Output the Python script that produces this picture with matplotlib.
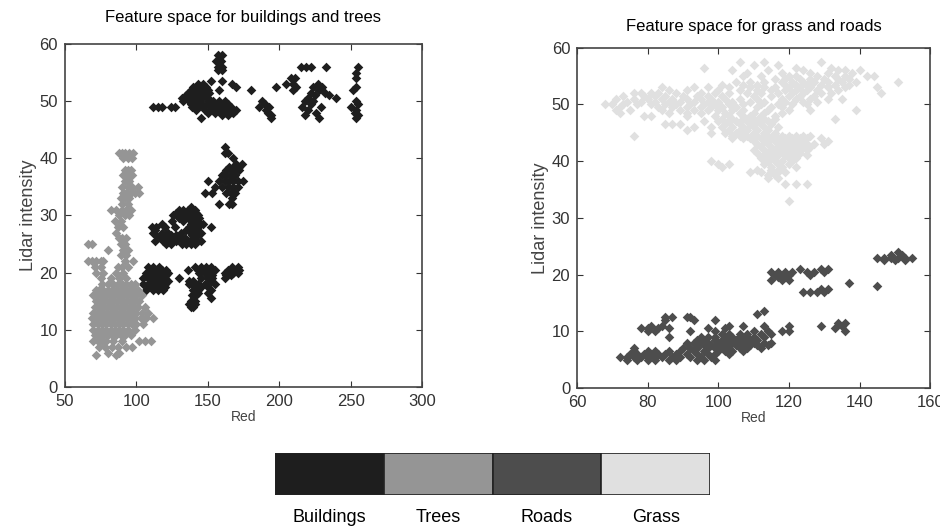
import numpy as np
import matplotlib.pyplot as plt

plt.rcParams['font.family'] = ['Liberation Sans', 'DejaVu Sans']

# rows of points: (y, [x values])
buildings_rows = [
    (58, [157, 160]), (57, [156, 159]),
    (56, [157, 160, 215, 219, 222, 233, 255]), (55.5, [157, 160]), (55, [254]),
    (54, [208, 211, 254]), (53.5, [152, 160]),
    (53, [143, 147, 167, 205, 210, 227]),
    (52.5, [140, 145, 149, 170, 198, 212, 224, 230, 254]),
    (52, [138, 142, 146, 150, 158, 180, 210, 228, 252]),
    (51.5, [136, 139, 143, 147, 151, 222, 232]),
    (51, [135, 138, 141, 144, 148, 225, 235]),
    (50.5, [132, 136, 140, 143, 146, 150, 220, 240]),
    (50, [133, 137, 140, 144, 150, 154, 158, 162, 188, 218, 224, 254]),
    (49.5, [138, 142, 146, 150, 153, 157, 161, 164, 190, 222, 255]),
    (49, [112, 115, 118, 124, 127, 139, 143, 147, 152, 156, 160, 163, 166, 186, 193, 216, 229, 250]),
    (48.5, [142, 148, 153, 157, 161, 165, 170, 191, 220, 254]),
    (48, [150, 155, 159, 163, 168, 192, 226, 253]),
    (47.5, [160, 164, 194, 218, 255]), (47, [145, 194, 228, 254]),
    (42, [162]), (41, [162, 164]), (40, [168]), (39, [170, 174]),
    (38.5, [165, 168, 172]), (38, [163, 166, 169, 172]),
    (37, [160, 163, 166, 169]), (36, [150, 158, 162, 165, 168, 171, 175]),
    (35, [155, 160, 164, 168, 171]), (34, [148, 153, 163, 166, 169]),
    (33, [167]), (32, [158, 165, 167]), (31.5, [138]),
    (31, [130, 133, 136, 141]), (30.5, [128, 131, 134, 137, 142]),
    (30, [126, 129, 132, 135, 140, 143]), (29.5, [130, 136, 138, 141, 144]),
    (29, [125, 133, 140, 143]), (28.5, [118, 138, 141, 144, 147]),
    (28, [111, 114, 120, 127, 137, 140, 143, 152]), (27.5, [113, 135, 142]),
    (27, [112, 118, 122, 131, 138, 145]), (26.5, [114, 121, 124, 128, 139, 143]),
    (26, [117, 120, 123, 126, 131, 134, 140]),
    (25.5, [113, 119, 122, 125, 128, 136, 139, 142, 145]),
    (25, [121, 124, 132, 135, 138, 141]),
    (21, [108, 112, 116, 141, 145, 149, 152, 167, 171]),
    (20.5, [111, 114, 118, 121, 136, 143, 146, 151, 155, 164, 169, 172]),
    (20, [107, 110, 113, 116, 119, 122, 144, 148, 152, 162, 165, 168, 171]),
    (19.5, [109, 112, 115, 118, 121, 150, 153, 163, 166]),
    (19, [105, 108, 111, 114, 117, 120, 130, 145, 150, 153, 162]),
    (18.5, [110, 113, 116, 119, 122, 137, 140, 152]),
    (18, [105, 108, 111, 114, 117, 120, 137, 140, 143, 148, 155]),
    (17.5, [110, 116, 120, 141, 145, 150]), (17, [107, 112, 115, 119, 140, 143, 152]),
    (16.5, [143, 150]), (16, [139, 142]), (15.5, [152]), (15, [138, 141]),
    (14.5, [137, 139, 141]), (14, [138, 140]),
]

trees_rows = [
    (41, [88, 90, 92, 95, 98]), (40, [91, 94, 97]), (38, [92, 94, 96]),
    (37, [91, 93, 95, 97]), (36, [92, 95]), (35, [90, 94, 97, 101]),
    (34, [91, 93, 96, 99, 102]), (33, [89, 92, 95]), (32, [90, 94]),
    (31, [82, 86, 90, 93, 96]), (30, [88, 92, 95]), (29, [85, 89]),
    (28, [87, 91]), (27, [86]), (26, [88, 90, 93]), (25, [66, 69, 89, 92]),
    (24, [80, 91, 94]), (23, [89, 93]), (22, [66, 69, 72, 75, 77, 92, 98]),
    (21, [71, 75, 87, 90, 94]), (20, [72, 77, 86, 91]), (19, [75, 82, 88, 93]),
    (18, [76, 80, 84, 87, 90, 93, 96, 99]),
    (17, [72, 74, 77, 80, 83, 86, 89, 92, 95, 98, 101]),
    (16, [70, 73, 76, 79, 82, 85, 88, 91, 94, 97, 100, 104]),
    (15, [72, 75, 78, 81, 84, 87, 90, 93, 96, 99, 102]),
    (14, [71, 74, 77, 80, 83, 86, 89, 92, 95, 98, 101, 106]),
    (13, [70, 73, 76, 79, 82, 85, 88, 91, 94, 97, 100, 104, 108]),
    (12, [69, 72, 75, 78, 81, 84, 87, 90, 93, 96, 99, 103, 107, 112]),
    (11, [70, 73, 76, 79, 82, 85, 88, 91, 94, 97, 100, 105]),
    (10, [70, 73, 76, 79, 82, 85, 88, 91, 94, 99]),
    (9, [71, 74, 77, 80, 83, 86, 89, 92, 96]),
    (8, [70, 73, 76, 79, 84, 90, 102, 106, 110]),
    (7, [74, 78, 83, 87, 93, 97]), (6, [80, 88]), (5.5, [72, 86]),
]

grass_rows = [
    (57.5, [106, 113, 129]), (57, [110, 117]), (56.5, [96, 122, 132]),
    (56, [104, 114, 124, 134, 136, 140]), (55.5, [108, 118, 126, 131, 138]),
    (55, [107, 112, 120, 122, 128, 133, 136, 142, 144]),
    (54.5, [116, 119, 123, 126, 130, 134, 137]),
    (54, [105, 109, 113, 118, 121, 124, 127, 131, 135, 139, 151]),
    (53.5, [101, 107, 111, 119, 122, 125, 129, 133, 137]),
    (53, [84, 93, 97, 103, 109, 113, 116, 120, 123, 126, 131, 136, 145]),
    (52.5, [86, 91, 100, 106, 111, 115, 119, 122, 125, 128, 134]),
    (52, [76, 78, 81, 83, 88, 95, 99, 103, 108, 112, 117, 121, 124, 129, 132, 146]),
    (51.5, [73, 79, 82, 85, 90, 94, 97, 101, 110, 115, 120, 123, 127]),
    (51, [71, 76, 80, 84, 87, 91, 95, 98, 102, 106, 111, 118, 122, 126, 131, 135]),
    (50.5, [74, 78, 82, 86, 89, 93, 97, 100, 104, 109, 113, 119, 124, 128]),
    (50, [68, 70, 73, 77, 81, 85, 88, 92, 96, 99, 103, 107, 112, 117, 121, 125]),
    (49.5, [72, 83, 87, 91, 95, 98, 101, 105, 111, 115, 118]),
    (49, [71, 75, 84, 89, 93, 97, 100, 104, 107, 114, 120, 126, 139]),
    (48.5, [72, 86, 91, 95, 102, 106, 110, 113, 118]),
    (48, [79, 81, 91, 99, 103, 107, 109, 112, 116]),
    (47.5, [101, 104, 107, 110, 113, 116, 133]),
    (47, [96, 100, 103, 105, 108, 111, 114]),
    (46.5, [85, 87, 89, 102, 106, 109, 112, 115]),
    (46, [93, 98, 101, 104, 107, 110, 113, 117]),
    (45.5, [91, 103, 106, 108, 111, 114]),
    (45, [98, 102, 105, 107, 110, 113, 116]),
    (44.5, [76, 104, 106, 108, 111, 114, 118, 120, 122, 124, 126]),
    (44, [104, 107, 109, 112, 115, 117, 119, 121, 123, 125, 129]),
    (43.5, [110, 113, 116, 118, 120, 122, 124, 131]),
    (43, [111, 114, 117, 119, 121, 123, 125, 127, 130]),
    (42.5, [112, 115, 118, 120, 122, 124, 126]),
    (42, [110, 113, 116, 118, 120, 122, 125]),
    (41.5, [111, 114, 117, 119, 121, 123]),
    (41, [113, 115, 117, 119, 121, 125]),
    (40.5, [112, 114, 116, 120, 122]), (40, [98, 114, 116, 118, 121]),
    (39.5, [100, 103, 113, 117, 120]), (39, [101, 115, 118, 122]),
    (38.5, [111, 115, 117]), (38, [109, 112, 115, 117, 119]),
    (37.5, [114, 116]), (37, [114, 117]), (36, [119, 122, 125]), (33, [120]),
]

roads_rows = [
    (24, [151]), (23.5, [149, 152]), (23, [145, 147, 149, 151, 153, 155]),
    (22.5, [147, 150, 153]), (21, [123, 129, 131]),
    (20.5, [115, 117, 119, 121, 125, 127, 130]), (20, [116, 118, 120, 126]),
    (19.5, [117, 119]), (19, [115, 118, 120]), (18.5, [137]), (18, [145]),
    (17.5, [129, 131]), (17, [124, 126, 128, 130]),
    (13.5, [113]), (13, [111]), (12.5, [85, 87, 91, 92]), (12, [85, 93, 99]),
    (11.5, [134, 136]), (11, [81, 84, 103, 107, 113, 120, 129, 135]),
    (10.5, [78, 80, 83, 86, 97, 102, 133]),
    (10, [80, 82, 92, 99, 110, 114, 118, 120, 136]),
    (9.5, [101, 103, 106, 108, 112, 115]),
    (9, [86, 95, 97, 99, 102, 104, 106, 108, 110, 113]),
    (8.5, [94, 96, 99, 101, 103, 105, 107, 109, 111]),
    (8, [91, 93, 95, 97, 100, 102, 104, 106, 108, 110, 113, 115]),
    (7.5, [94, 96, 98, 101, 103, 105, 107, 109, 111, 114]),
    (7, [76, 90, 92, 94, 97, 99, 101, 103, 106, 108, 112]),
    (6.5, [76, 80, 82, 86, 89, 93, 96, 100, 102, 104, 107]),
    (6, [75, 77, 79, 81, 83, 85, 88, 91, 94, 97, 99, 103]),
    (5.5, [72, 74, 76, 78, 80, 82, 84, 87, 89, 92, 95, 98]),
    (5, [74, 77, 80, 82, 86, 88, 94, 96, 99]),
]

classes = ['Buildings', 'Trees', 'Roads', 'Grass']
class_colors = ['#1e1e1e', '#959595', '#4d4d4d', '#e0e0e0']


def rows_to_xy(rows):
    xs, ys = [], []
    for y, row in rows:
        xs.extend(row)
        ys.extend([y] * len(row))
    return np.array(xs, float), np.array(ys, float)


def style_axes(ax):
    ax.tick_params(direction='in', top=True, right=True, length=4, pad=5,
                   labelsize=12, labelcolor='#333333', color='#333333')
    for s in ax.spines.values():
        s.set_color('#444444')
        s.set_linewidth(1.2)
    ax.set_ylabel('Lidar intensity', fontsize=13, color='#444444', labelpad=2)
    ax.set_xlabel('Red', fontsize=10, color='#444444', labelpad=1)


fig = plt.figure(figsize=(9.4, 5.3), dpi=100)

ax1 = fig.add_axes([0.069, 0.270, 0.380, 0.647])
for rows, c in [(buildings_rows, class_colors[0]), (trees_rows, class_colors[1])]:
    x, y = rows_to_xy(rows)
    ax1.scatter(x, y, marker='D', s=24, color=c, linewidths=0)
ax1.set_xlim(50, 300)
ax1.set_ylim(0, 60)
ax1.set_xticks([50, 100, 150, 200, 250, 300])
ax1.set_yticks([0, 10, 20, 30, 40, 50, 60])
style_axes(ax1)
ax1.set_title('Feature space for buildings and trees', fontsize=12, pad=16)

ax2 = fig.add_axes([0.614, 0.268, 0.3755, 0.642])
for rows, c in [(grass_rows, class_colors[3]), (roads_rows, class_colors[2])]:
    x, y = rows_to_xy(rows)
    ax2.scatter(x, y, marker='D', s=24, color=c, linewidths=0)
ax2.set_xlim(60, 160)
ax2.set_ylim(0, 60)
ax2.set_xticks([60, 80, 100, 120, 140, 160])
ax2.set_yticks([0, 10, 20, 30, 40, 50, 60])
style_axes(ax2)
ax2.set_title('Feature space for grass and roads', fontsize=12, pad=12)

# colour key below the plots
axk = fig.add_axes([0.2926, 0.066, 0.4628, 0.079])
axk.bar(range(len(classes)), [1] * len(classes), width=1.0,
        color=class_colors, edgecolor='#222222', linewidth=1.2)
axk.set_xlim(-0.5, len(classes) - 0.5)
axk.set_ylim(0, 1)
axk.set_xticks(range(len(classes)))
axk.set_xticklabels(classes, fontsize=13)
axk.set_yticks([])
axk.tick_params(length=0, pad=10)
for s in axk.spines.values():
    s.set_visible(False)

fig.savefig('out.png', dpi=100)
